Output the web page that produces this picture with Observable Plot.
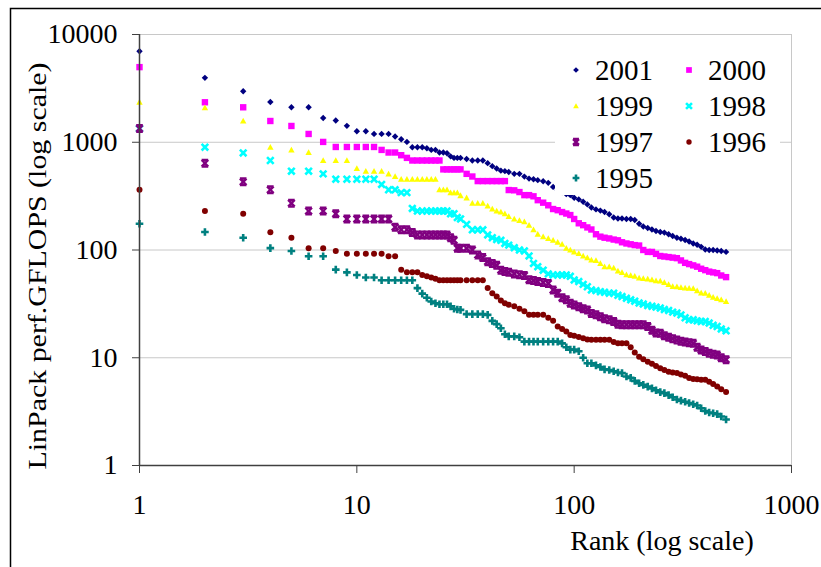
<!DOCTYPE html>
<html><head><meta charset="utf-8">
<script src="https://cdn.jsdelivr.net/npm/d3@7"></script>
<script src="https://cdn.jsdelivr.net/npm/@observablehq/plot@0.6"></script>
<style>body{margin:0;background:#fff} #chart{width:821px;height:567px}</style>
</head><body><div id="chart"></div>
<script>
// Rank (x) values sampled along the curves
const ranks = [
1,2,3,4,5,6,7,8,9,10,
11,12,13,14,15,16,17,18,19,20,
21,22,23,24,25,26,27,28,29,30,
32,34,36,38,40,42,44,46,48,50,
53,56,59,62,65,68,72,76,80,84,
88,92,96,100,105,110,115,120,126,132,
138,145,152,159,166,174,182,190,199,208,
218,228,238,249,260,272,284,297,310,324,
338,353,368,384,401,418,436,455,475,500];

// LinPack GFLOPS, one list per year
const y2001 = [
7000,3960,2970,2360,2110,2110,1680,1590,1420,1265,
1265,1195,1195,1195,1130,1066,1007,900,900,900,
880,849,849,803,803,790,740,716,716,716,
700,677,677,677,640,600,570,545,539,530,
509,509,480,460,454,445,435,420,385,360,
345,330,323,305,295,280,265,248,238,232,
225,215,200,196,196,194,194,190,175,165,
160,155,150,147,145,140,135,130,127,124,
120,115,112,107,101,100,100,99,98,96];
const y2000 = [
4980,2350,2110,1575,1416,1194,1007,904,904,904,
904,904,849,803,803,758,716,677,677,677,
677,677,677,677,560,560,560,560,560,560,
509,481,436,436,436,436,436,436,436,360,
358,345,323,323,315,290,275,260,240,234,
225,218,211,194,177,170,162,155,140,133,
130,128,125,123,118,115,113,111,110,100,
96,96,92,88,87,86,85,84,80,76,
74,72,70,67,65,63,62,61,58,56];
const y1999 = [
2360,2096,1575,899,849,803,677,677,677,571,
539,539,539,509,481,454,454,454,454,454,
454,454,454,362,362,362,341,341,341,320,
305,272,272,272,256,240,230,225,217,205,
194,188,183,170,154,140,133,128,123,118,
113,104,100,96,93,88,85,81,80,75,
70,70,68,64,62,59,58,57,55,54.5,
54,53,52,51.5,50,48,46,45.6,45,44.5,
44.3,44,42,40,39.7,38,36.5,35.6,34.5,33.3];
const y1998 = [
1340,899,796,677,539,539,509,454,454,454,
454,454,406,362,362,341,341,243,230,230,
230,230,230,230,230,230,217,217,200,194,
173,154,154,154,138,130,125,123,115,111,
105,100,98,88,75,70,65,60,58.7,58.7,
58.7,58.7,57,52.7,51,48,45.6,42.6,42,41,
40.5,39.7,39.7,38,37,35.6,34.5,33.5,32.2,31.5,
30.5,30,29.5,28.9,28,27.5,26.5,26,25,23.5,
22.5,22.5,22,21.7,21.7,21,20,19.5,18.5,17.8];
const y1997 = [
1340,639,429,362,272,230,230,217,194,194,
194,194,194,194,163,154,154,145,138,138,
138,138,138,138,138,138,130,123,104,104,
104,100,90,85,78,75,72,65,63,62,
60,59,58,53,52,51,50,49,42.6,39.7,
36,34.5,32,30.9,29.8,28.5,27.8,25.8,25,24,
23,22.5,21.7,20.5,20.2,20.2,20.2,20.2,20.2,20.2,
19.5,18,17,16.9,16,15.5,15,14.6,14.2,14,
13.8,13.6,12.5,11.8,11.4,11,10.8,10.6,10,9.6];
const y1996 = [
362,230,217,146,130,104,104,98,92.4,92.4,
92.4,92.4,92.4,87.5,87.5,65.7,62,62,62,58.7,
57,55.5,54,52.4,52.4,52.4,52.4,52.4,52.4,52.4,
52.4,52.4,52.4,52.4,44.3,39.7,37,34,32,31,
30,28.5,27,25,25,25,25,23.5,22,19.5,
18.5,17.5,16.3,16,15.6,15.2,14.8,14.7,14.7,14.7,
14.7,14.7,14,13.6,13.6,13.6,12.5,11.2,10.2,9.7,
9.2,8.8,8.4,8.0,7.7,7.4,7.3,7.2,7.0,6.8,
6.5,6.35,6.3,6.25,6.25,6.0,5.7,5.4,5.1,4.8];
const y1995 = [
175,147,130,104,98,87.5,87.5,65.7,62,58.7,
55.5,55.5,52.4,52.4,52.4,52.4,52.4,52.4,44.3,39.4,
36,33.3,32,31.4,31.4,31.4,30,28.5,28,27.8,
25.4,25.4,25.4,25.4,25,22,20.5,18.8,16.5,15.8,
15.8,15.5,14.1,14.1,14.1,14.1,14.1,14.1,14.1,14.1,
13.6,12.5,11.9,11.9,11.5,10,8.9,8.9,8.5,8.2,
7.8,7.7,7.5,7.3,7.2,6.7,6.5,6.1,5.8,5.6,
5.4,5.2,5.0,4.8,4.7,4.5,4.3,4.1,4.0,3.9,
3.8,3.7,3.6,3.4,3.2,3.1,3.05,3.0,2.85,2.67];

const years = ["2001","2000","1999","1998","1997","1996","1995"];
const xTicks = [1,10,100,1000];
const yTicks = [1,10,100,1000,10000];

// marker shapes
const rad = s => Math.sqrt(s / Math.PI);
const symDiamond = {draw(c,s){const r=rad(s);c.moveTo(0,-r);c.lineTo(r,0);c.lineTo(0,r);c.lineTo(-r,0);c.closePath();}};
const symSquare = {draw(c,s){const r=rad(s);c.moveTo(-r,-r);c.lineTo(r,-r);c.lineTo(r,r);c.lineTo(-r,r);c.closePath();}};
const symTri = {draw(c,s){const r=rad(s);c.moveTo(0,-r);c.lineTo(r,r*0.8);c.lineTo(-r,r*0.8);c.closePath();}};
const symX = {draw(c,s){const r=rad(s);c.moveTo(-r,-r);c.lineTo(r,r);c.moveTo(r,-r);c.lineTo(-r,r);}};
const symStar = {draw(c,s){const r=rad(s);c.moveTo(-r,-r);c.lineTo(r,r);c.moveTo(r,-r);c.lineTo(-r,r);c.moveTo(-r,-r);c.lineTo(r,-r);c.moveTo(-r,r);c.lineTo(r,r);}};
const symCircle = {draw(c,s){const r=rad(s);c.moveTo(r,0);c.arc(0,0,r,0,2*Math.PI);c.closePath();}};
const symPlus = {draw(c,s){const r=rad(s);c.moveTo(-r,0);c.lineTo(r,0);c.moveTo(0,-r);c.lineTo(0,r);}};

const series = [
  {name:years[0], values:y2001, color:"#000080", symbol:symDiamond, r:3.2, filled:true},
  {name:years[1], values:y2000, color:"#FF00FF", symbol:symSquare, r:3.2, filled:true},
  {name:years[2], values:y1999, color:"#FFFF00", symbol:symTri, r:3.2, filled:true},
  {name:years[3], values:y1998, color:"#00FFFF", symbol:symX, r:3.3, filled:false, sw:2.6},
  {name:years[4], values:y1997, color:"#800080", symbol:symStar, r:3.3, filled:false, sw:2.4},
  {name:years[5], values:y1996, color:"#800000", symbol:symCircle, r:3, filled:true},
  {name:years[6], values:y1995, color:"#008080", symbol:symPlus, r:3.8, filled:false, sw:2.6}
];
const data = series.flatMap(s => ranks.map((rank, i) => ({year: s.name, rank, v: s.values[i]})));

const font = "'Liberation Serif','Times New Roman',serif";
const plot = Plot.plot({
  width: 821, height: 567,
  marginLeft: 139, marginRight: 30, marginTop: 34, marginBottom: 102,
  style: {fontFamily: font, fontSize: "28px", background: "white", color: "black"},
  x: {type: "log", domain: [1, 1000]},
  y: {type: "log", domain: [1, 10000]},
  marks: [
    Plot.gridY(yTicks.slice(1), {stroke: "#c8c8c8", strokeOpacity: 1}),
    Plot.ruleX([xTicks[xTicks.length-1]], {stroke: "#c8c8c8"}),
    ...series.map(s => Plot.dot(data.filter(d => d.year === s.name), {
      x: "rank", y: "v", symbol: s.symbol, r: s.r,
      fill: s.filled ? s.color : "none",
      stroke: s.filled ? "none" : s.color,
      strokeWidth: s.sw || 1
    })),
    Plot.ruleY([yTicks[0]], {stroke: "#404040", strokeWidth: 1.5}),
    Plot.ruleX([xTicks[0]], {stroke: "#404040", strokeWidth: 1.5}),
    Plot.axisY({ticks: yTicks, tickFormat: d => String(d), tickSize: 7, tickPadding: 15, stroke: "#404040", fill: "black", label: null}),
    Plot.axisX({ticks: xTicks, tickFormat: d => String(d), tickSize: 8, tickPadding: 21, stroke: "#404040", fill: "black", label: null})
  ]
});
document.getElementById("chart").appendChild(plot);

const svg = d3.select(plot);
// axis titles
svg.append("text").attr("x", 662).attr("y", 550).attr("text-anchor", "middle")
  .attr("font-size", 28).attr("font-family", font).attr("fill", "black").text("Rank (log scale)");
svg.append("text").attr("transform", "translate(46,266) rotate(-90)").attr("text-anchor", "middle")
  .attr("font-size", 26).attr("font-family", font).attr("fill", "black")
  .attr("textLength", 407).attr("lengthAdjust", "spacingAndGlyphs")
  .text("LinPack perf.GFLOPS (log scale)");

// legend
const lg = svg.append("g");
lg.append("rect").attr("x", 555).attr("y", 52).attr("width", 225).attr("height", 143).attr("fill", "white");
series.forEach((s, i) => {
  const col = i % 2, row = Math.floor(i / 2);
  const mx = 576 + col * 113, my = 70 + row * 36;
  lg.append("path").attr("transform", `translate(${mx},${my})`)
    .attr("d", d3.symbol().type(s.symbol).size(s.r * s.r * Math.PI * 0.8)())
    .attr("fill", s.filled ? s.color : "none")
    .attr("stroke", s.filled ? "none" : s.color)
    .attr("stroke-width", s.sw || 1);
  lg.append("text").attr("x", mx + 19).attr("y", my).attr("dy", "0.34em")
    .attr("text-anchor", "start")
    .attr("font-size", 29).attr("font-family", font).attr("fill", "black").text(s.name);
});

// outer border (left and top)
svg.append("path").attr("d", "M10.5,567V8.5H821").attr("fill", "none").attr("stroke", "black").attr("stroke-width", 1.5);
</script>
</body></html>
